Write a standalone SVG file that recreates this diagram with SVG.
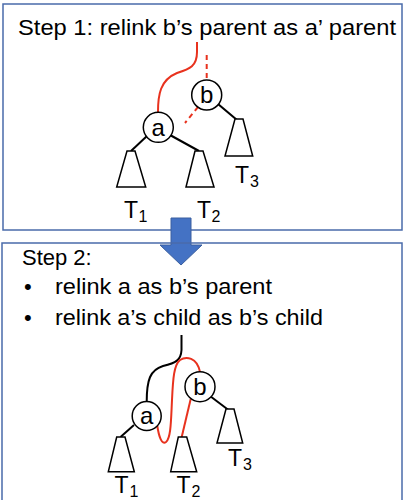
<svg xmlns="http://www.w3.org/2000/svg" width="408" height="500" viewBox="0 0 408 500">
<style>
.box{fill:none;stroke:#4A6BAA;stroke-width:1.5}
.t{font-family:"Liberation Sans",Arial,sans-serif;font-size:22px;fill:#000}
.T{font-family:"Liberation Sans",Arial,sans-serif;font-size:23px;fill:#000}
.sub{font-family:"Liberation Sans",Arial,sans-serif;font-size:16px;fill:#000}
.n{fill:#fff;stroke:#000;stroke-width:1.5}
.nl{font-family:"Liberation Sans",Arial,sans-serif;font-size:24px;text-anchor:middle;fill:#000}
.tri{fill:#fff;stroke:#000;stroke-width:1.5;stroke-linejoin:miter}
.k{fill:none;stroke:#000;stroke-width:2}
.r{fill:none;stroke:#E8321E;stroke-width:2}
.rd{fill:none;stroke:#E8321E;stroke-width:2;stroke-dasharray:5,4}
</style>
<rect width="408" height="500" fill="#fff"/>
<rect class="box" x="3" y="4" width="399" height="226"/>
<g id="arrow">
<path d="M171,218 H191 V245 H202 L181,265 L160,245 H171 Z" fill="#4472C4" stroke="#3A5F9F" stroke-width="1"/>
</g>
<rect class="box" x="2" y="243" width="400" height="262"/>
<text class="t" x="18" y="35" textLength="378" lengthAdjust="spacingAndGlyphs">Step 1: relink b’s parent as a’ parent</text>
<text class="t" x="22" y="265">Step 2:</text>
<text class="t" x="24" y="294">•</text>
<text class="t" x="55" y="294" textLength="217" lengthAdjust="spacingAndGlyphs">relink a as b’s parent</text>
<text class="t" x="24" y="325">•</text>
<text class="t" x="55" y="325" textLength="268" lengthAdjust="spacingAndGlyphs">relink a’s child as b’s child</text>
<g id="connectors">
<path class="r" d="M158,112 C158,95 160,80 177,73 C190,69 197,66 197,52 L197,42"/>
<line class="rd" x1="206.7" y1="55" x2="206.7" y2="80"/>
<line class="rd" x1="198" y1="107" x2="185" y2="123"/>
<line class="k" x1="218" y1="104" x2="237" y2="120"/>
<line class="k" x1="147" y1="136" x2="131" y2="151"/>
<line class="k" x1="170" y1="135" x2="199" y2="151"/>
<path class="k" d="M146.7,402 C146.7,380 150,370 163,366 C176,363 181,360 181.5,350 L181.5,335"/>
<path class="r" d="M157,424 C159,438 162,445 166,442 C171,438 171,420 172,400 C173,378 174,365 180,360 C186,356 197,357 200,372"/>
<line class="r" x1="190.7" y1="399" x2="181.7" y2="437"/>
<line class="k" x1="210" y1="396" x2="228.5" y2="410"/>
<line class="k" x1="134" y1="425" x2="120.5" y2="437"/>
</g>
<g id="top-a"><circle class="n" cx="158.3" cy="127.3" r="15"/><text class="nl" x="158.3" y="135.5">a</text></g>
<g id="top-b"><circle class="n" cx="206.7" cy="95" r="15"/><text class="nl" x="206.7" y="103">b</text></g>
<g id="top-T1"><path class="tri" d="M127,151 H135 L145.7,187 H116.7 Z"/><text class="T" x="124" y="218">T</text><text class="sub" x="138.5" y="222">1</text></g>
<g id="top-T2"><path class="tri" d="M195,151 H203 L214,187 H186 Z"/><text class="T" x="197" y="218">T</text><text class="sub" x="211.5" y="222">2</text></g>
<g id="top-T3"><path class="tri" d="M235,119 H243 L252.7,156 H225 Z"/><text class="T" x="235" y="183">T</text><text class="sub" x="250" y="187">3</text></g>
<g id="bot-a"><circle class="n" cx="146.7" cy="416" r="14.5"/><text class="nl" x="146.7" y="424">a</text></g>
<g id="bot-b"><circle class="n" cx="200" cy="386.7" r="15"/><text class="nl" x="200" y="395">b</text></g>
<g id="bot-T1"><path class="tri" d="M116.7,437 H125 L134.3,471.7 H108.3 Z"/><text class="T" x="114.5" y="493">T</text><text class="sub" x="129.5" y="497">1</text></g>
<g id="bot-T2"><path class="tri" d="M178.3,437 H186.7 L196.7,471.7 H170.7 Z"/><text class="T" x="176.5" y="493">T</text><text class="sub" x="191.5" y="497">2</text></g>
<g id="bot-T3"><path class="tri" d="M226,409 H234 L242.7,443 H217 Z"/><text class="T" x="228" y="466">T</text><text class="sub" x="243" y="470">3</text></g>
</svg>
